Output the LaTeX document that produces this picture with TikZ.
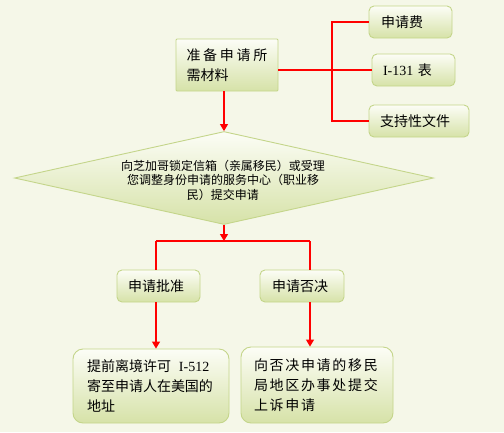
\documentclass[tikz,border=0pt]{standalone}
\usepackage{fontspec}
\setmainfont{Noto Sans CJK SC}
\newfontfamily\lat{Liberation Serif}
\usetikzlibrary{arrows.meta,shapes.geometric}
\definecolor{bgc}{RGB}{245,247,232}
\definecolor{bordc}{RGB}{196,213,138}
\definecolor{topc}{RGB}{252,253,246}
\definecolor{botc}{RGB}{214,226,168}
\tikzset{
  gbox/.style={draw=bordc, line width=0.9pt, top color=topc, bottom color=botc,
    rounded corners=5pt, inner ysep=0pt, minimum height=32pt, align=left,
    font=\fontsize{14pt}{20pt}\selectfont},
  conn/.style={draw=red, line width=1.2pt},
  arr/.style={conn, -{Triangle[width=8pt,length=7pt]}, red}
}
\begin{document}
\begin{tikzpicture}[x=1pt,y=-1pt]
\fill[bgc] (0,0) rectangle (504,432);
\useasboundingbox (0,0) rectangle (504,432);
% top box
\node[gbox, rounded corners=1pt, minimum height=52pt, inner xsep=10.5pt, text width=81pt] (prep) at (227,65)
  {\makebox[81pt][s]{准\hfill 备\hfill 申\hfill 请\hfill 所}\\需材料};
\node[gbox, inner xsep=12pt, text width=59pt] (fee) at (410.5,22) {申请费};
\node[gbox, inner xsep=11pt, text width=61pt] (i131) at (413.5,70) {{\lat I-131} 表};
\node[gbox, inner xsep=11pt, text width=78pt] (supp) at (419,121) {支持性文件};
% diamond
\node[draw=bordc, line width=0.9pt, shape=diamond, minimum width=419pt, minimum height=93pt,
  inner sep=0pt, top color=topc, bottom color=botc] (dia) at (224,178) {};
\node[align=center, inner sep=0pt, font=\fontsize{12pt}{14.5pt}\selectfont] (diatext) at (223,180)
  {向芝加哥锁定信箱（亲属移民）或受理\\您调整身份申请的服务中心（职业移\\民）提交申请};
% decision boxes
\node[gbox, inner xsep=11pt, text width=61pt] (appr) at (158.5,286) {申请批准};
\node[gbox, inner xsep=12pt, text width=60pt] (deny) at (302,286) {申请否决};
\node[gbox, rounded corners=10pt, minimum height=74pt, inner xsep=14pt, text width=128pt] (ll) at (151,386)
  {提前离境许可\hspace{8pt}{\lat I-512}\\寄至申请人在美国的\\地址};
\node[gbox, rounded corners=10pt, minimum height=76pt, inner xsep=13pt, text width=126pt] (lr) at (317,385)
  {\addfontfeature{LetterSpace=12}向否决申请的移民\\局地区办事处提交\\上诉申请};
% connectors
\coordinate (jn) at (332,70);
\draw[conn] (prep.east |- i131.west) -- (i131.west);
\draw[conn] (fee.west) -| (jn) |- (supp.west);
\draw[arr] (dia.north |- prep.south) -- (dia.north);
\coordinate (split) at (224,241);
\coordinate (sl) at (156,241);
\coordinate (sr) at (310,241);
\draw[arr] (dia.south) -- (split);
\draw[conn] (sl) -- (sr);
\draw[conn] (sl) -- (sl |- appr.north);
\draw[conn] (sr) -- (sr |- deny.north);
\draw[arr] (sl |- appr.south) -- (sl |- ll.north);
\draw[arr] (sr |- deny.south) -- (sr |- lr.north);
\end{tikzpicture}
\end{document}
